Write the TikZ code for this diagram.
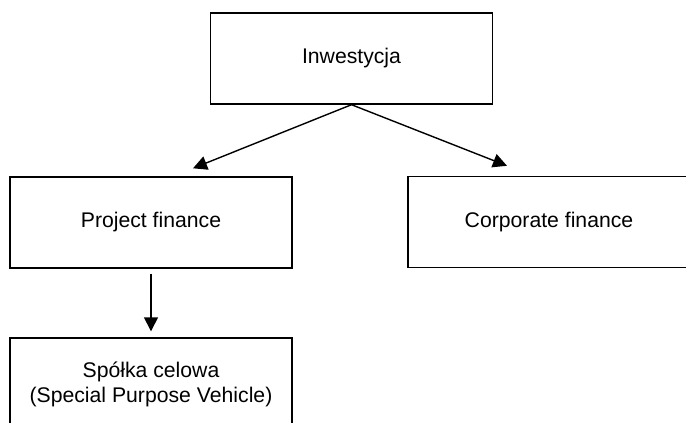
\documentclass[tikz,border=0pt]{standalone}
\usepackage{fontspec}
\setmainfont{Liberation Sans}
\usetikzlibrary{arrows.meta,positioning}

\begin{document}
\begin{tikzpicture}[
    x=1pt,
    y=-1pt,
    box/.style={
      draw=black,
      line width=1.4pt,
      minimum width=282pt,
      minimum height=91pt,
      inner sep=0pt,
      align=center,
      font=\fontsize{21.2}{25}\selectfont
    },
    link/.style={
      draw=black,
      line width=1.4pt,
      -{Triangle[length=14pt,width=14pt]}
    }
  ]
    % Page frame, the two right and bottom boxes run off it.
    \useasboundingbox (0,0) rectangle (686,423);
    \clip (0,0) rectangle (686,423);

    % Boxes.
    \node[box] (inv) at (351.5,58.5) {Inwestycja};
    \node[box] (pf) at (151,222.5) {Project finance};
    \node[box] (cf) at (549,222) {Corporate finance};
    \node[box,minimum height=92pt] (spv) at (151,384)
      {Spółka celowa\\(Special Purpose Vehicle)};

    % Arrows.
    \draw[link] (inv.south) -- ([xshift=42pt,yshift=8pt]pf.north);
    \draw[link] (inv.south) -- ([xshift=-42pt,yshift=10pt]cf.north);
    \draw[link] ([yshift=-5pt]pf.south) -- ([yshift=6pt]spv.north);
  \end{tikzpicture}
\end{document}
